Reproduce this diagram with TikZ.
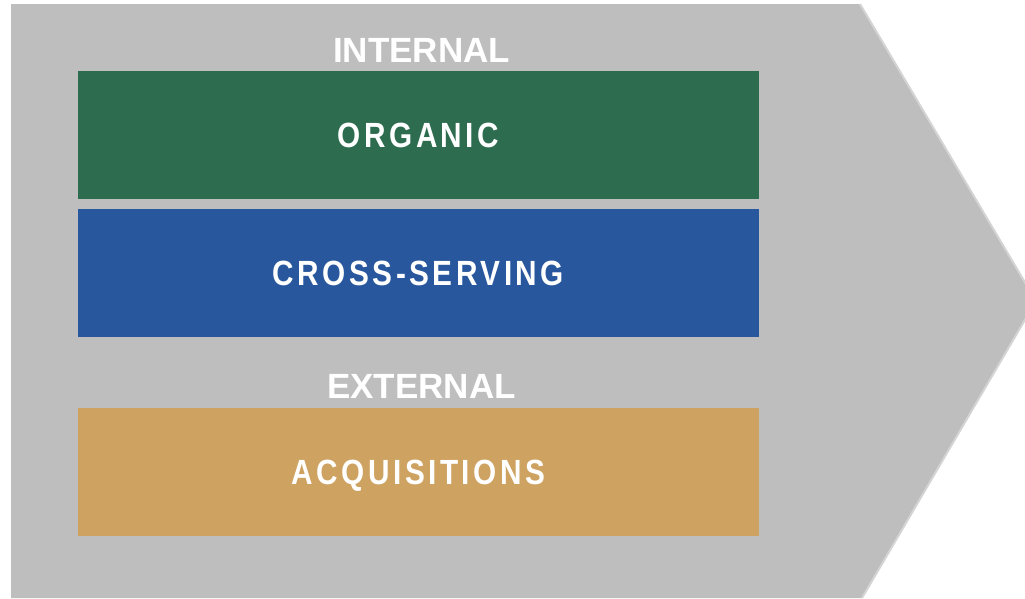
\documentclass[tikz,border=0pt]{standalone}
\usepackage{fontspec}
\setmainfont{Liberation Sans}
\newfontfamily\headfont{Liberation Sans}[BoldFont=*-Bold]
\newfontfamily\boxfont{Liberation Sans Bold}[FakeStretch=0.85,LetterSpace=10]
\definecolor{bggray}{RGB}{190,190,190}
\definecolor{edgegray}{RGB}{212,212,212}
\definecolor{orggreen}{RGB}{46,108,80}
\definecolor{crossblue}{RGB}{40,87,157}
\definecolor{acqgold}{RGB}{206,162,97}
\tikzset{
  bar/.style={minimum width=681pt, minimum height=128pt, inner sep=0pt,
    text=white, font=\boxfont\fontsize{35}{35}\selectfont,
    text height=25pt, text depth=0pt},
  head/.style={inner sep=0pt, text=white,
    font=\headfont\bfseries\fontsize{35}{35}\selectfont,
    text height=25pt, text depth=0pt}
}
\begin{document}
\begin{tikzpicture}[x=1pt,y=-1pt]
\useasboundingbox (0,0) rectangle (1025,598);
\clip (0,0) rectangle (1025,598);
\fill[bggray] (11,4) -- (860,4) -- (1036,301) -- (862,598) -- (11,598) -- cycle;
\draw[edgegray, line width=2pt] (860,4) -- (1036,301) -- (862,598);
\node[head] (internal) at (421.5,50) {INTERNAL};
\node[bar, fill=orggreen] (organic) at (418.5,135) {ORGANIC};
\node[bar, fill=crossblue] (cross) at (418.5,273) {CROSS-SERVING};
\node[head] (external) at (421.5,386) {EXTERNAL};
\node[bar, fill=acqgold] (acq) at (418.5,471.5) {ACQUISITIONS};
\end{tikzpicture}
\end{document}
